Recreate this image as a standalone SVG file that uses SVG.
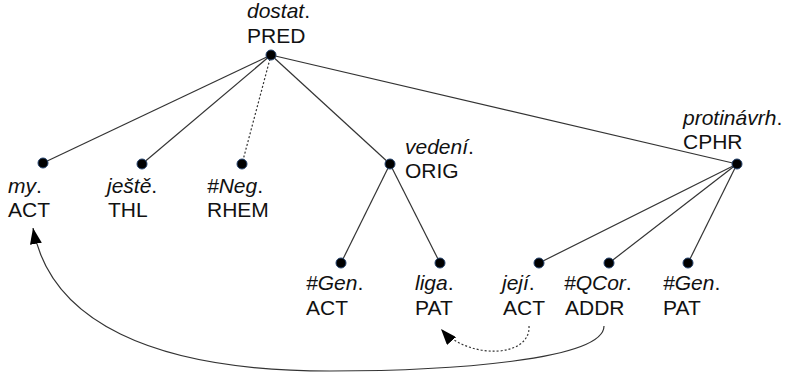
<svg xmlns="http://www.w3.org/2000/svg" width="787" height="375" viewBox="0 0 787 375">
  <style>
    text { font-family: "Liberation Sans", Arial, sans-serif; font-size: 21px; fill: #111; }
    .lem { font-style: italic; }
    .edge { stroke: #333; stroke-width: 1.2; fill: none; }
    .dot { stroke-dasharray: 2 2; }
    .node-dot { fill: #000; stroke: #25436e; stroke-width: 1; }
  </style>
  <defs>
    <marker id="arrow" viewBox="0 0 16 12" refX="16" refY="6" markerWidth="16" markerHeight="12" markerUnits="userSpaceOnUse" orient="auto">
      <path d="M0,0 L16,6 L0,12 Z" fill="#000"/>
    </marker>
  </defs>

  <!-- tree edges and coreference arrows -->
  <g id="connectors">
    <line class="edge" x1="271" y1="55" x2="43" y2="163"/>
    <line class="edge" x1="271" y1="55" x2="142" y2="164"/>
    <line class="edge dot" x1="271" y1="55" x2="242" y2="164"/>
    <line class="edge" x1="271" y1="55" x2="390" y2="164"/>
    <line class="edge" x1="271" y1="55" x2="737" y2="164"/>
    <line class="edge" x1="390" y1="164" x2="341" y2="263"/>
    <line class="edge" x1="390" y1="164" x2="440" y2="263"/>
    <line class="edge" x1="737" y1="164" x2="539" y2="263"/>
    <line class="edge" x1="737" y1="164" x2="609" y2="263"/>
    <line class="edge" x1="737" y1="164" x2="688" y2="263"/>
    <path class="edge dot" d="M529,326 C531,358 468,360 441,329" marker-end="url(#arrow)"/>
    <path class="edge" d="M604,326 C604,360 450,371 330,371 C150,371 50,320 33,228" marker-end="url(#arrow)"/>
  </g>

  <g id="n-dostat">
    <circle class="node-dot" cx="271" cy="55" r="5"/>
    <text x="247" y="18"><tspan class="lem">dostat</tspan>.</text>
    <text x="247" y="43">PRED</text>
  </g>
  <g id="n-my">
    <circle class="node-dot" cx="43" cy="163" r="5"/>
    <text x="8" y="193"><tspan class="lem">my</tspan>.</text>
    <text x="8" y="217">ACT</text>
  </g>
  <g id="n-jeste">
    <circle class="node-dot" cx="142" cy="164" r="5"/>
    <text x="107" y="193"><tspan class="lem">ještě</tspan>.</text>
    <text x="108" y="217">THL</text>
  </g>
  <g id="n-neg">
    <circle class="node-dot" cx="242" cy="164" r="5"/>
    <text x="207" y="193"><tspan class="lem">#Neg</tspan>.</text>
    <text x="207" y="217">RHEM</text>
  </g>
  <g id="n-vedeni">
    <circle class="node-dot" cx="390" cy="164" r="5"/>
    <text x="405" y="154"><tspan class="lem">vedení</tspan>.</text>
    <text x="405" y="178">ORIG</text>
  </g>
  <g id="n-protinavrh">
    <circle class="node-dot" cx="737" cy="164" r="5"/>
    <text x="683" y="125"><tspan class="lem">protinávrh</tspan>.</text>
    <text x="683" y="149">CPHR</text>
  </g>
  <g id="n-gen-act">
    <circle class="node-dot" cx="341" cy="263" r="5"/>
    <text x="306" y="290"><tspan class="lem">#Gen</tspan>.</text>
    <text x="306" y="315">ACT</text>
  </g>
  <g id="n-liga">
    <circle class="node-dot" cx="440" cy="263" r="5"/>
    <text x="415" y="290"><tspan class="lem">liga</tspan>.</text>
    <text x="415" y="315">PAT</text>
  </g>
  <g id="n-jeji">
    <circle class="node-dot" cx="539" cy="263" r="5"/>
    <text x="502" y="290"><tspan class="lem">její</tspan>.</text>
    <text x="503" y="315">ACT</text>
  </g>
  <g id="n-qcor">
    <circle class="node-dot" cx="609" cy="263" r="5"/>
    <text x="564" y="290"><tspan class="lem">#QCor</tspan>.</text>
    <text x="565" y="315">ADDR</text>
  </g>
  <g id="n-gen-pat">
    <circle class="node-dot" cx="688" cy="263" r="5"/>
    <text x="663" y="290"><tspan class="lem">#Gen</tspan>.</text>
    <text x="663" y="315">PAT</text>
  </g>
</svg>
